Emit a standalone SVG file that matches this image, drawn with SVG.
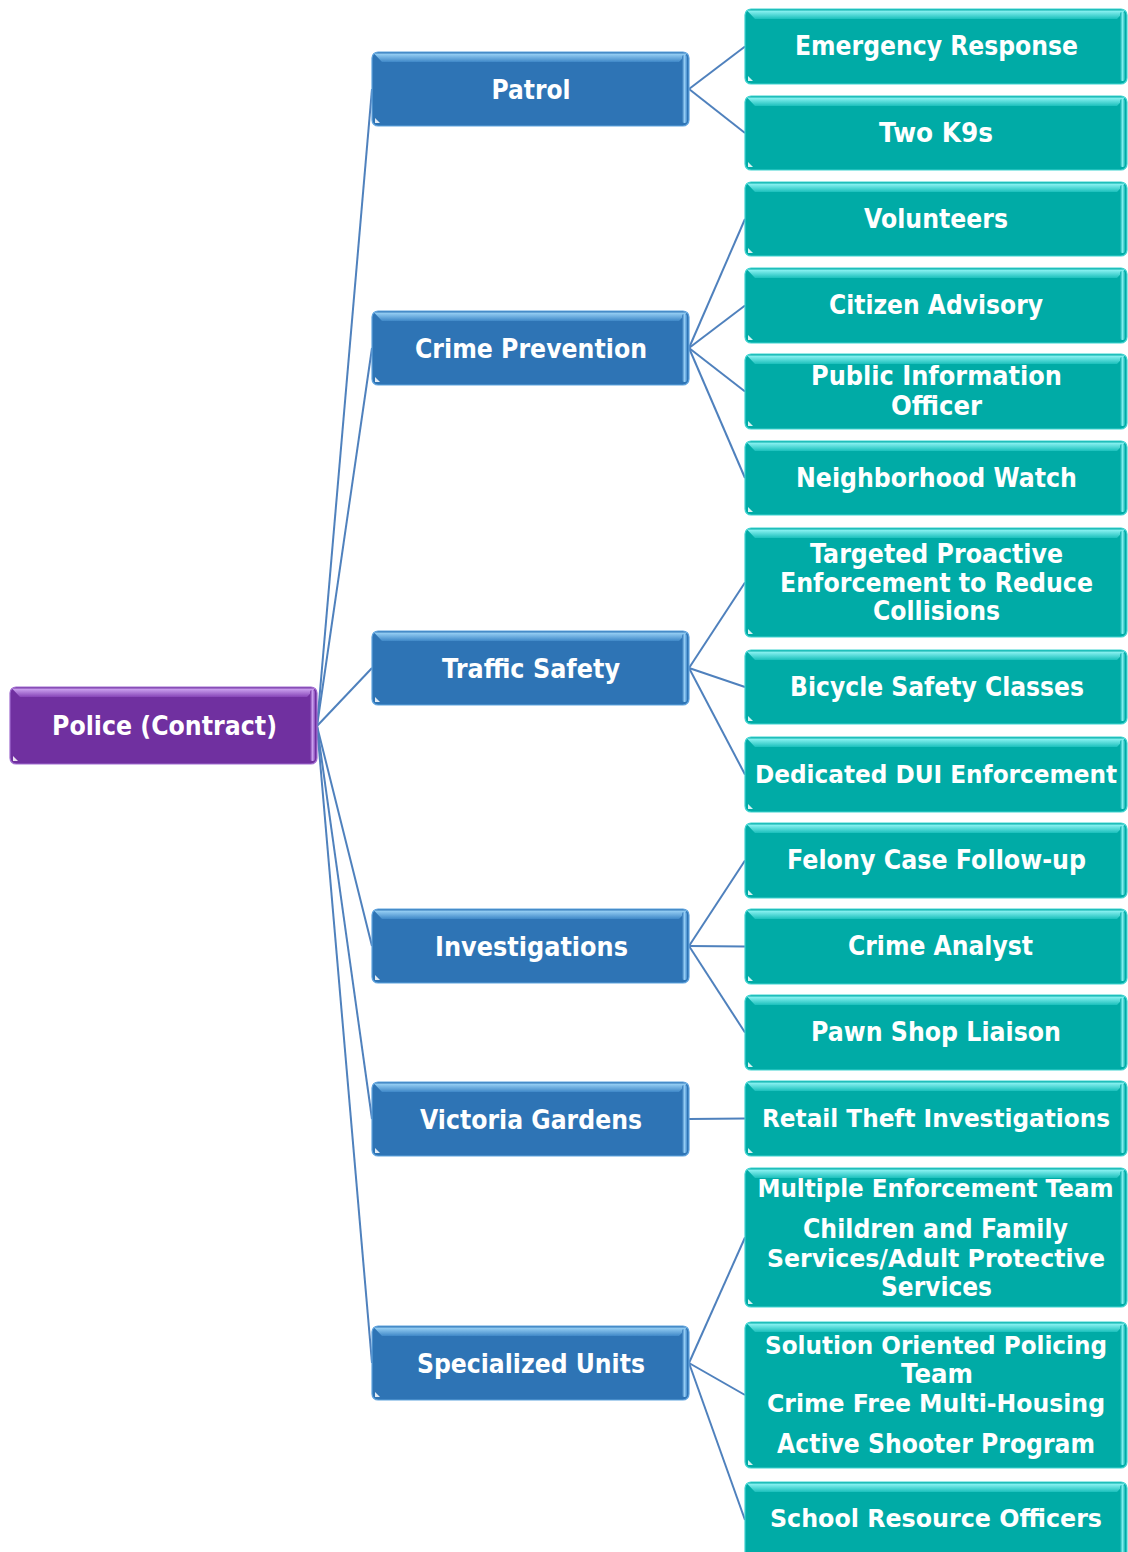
<svg xmlns="http://www.w3.org/2000/svg" width="1128" height="1552" viewBox="0 0 1128 1552">
<defs>
<linearGradient id="gTealTop" x1="0" y1="0" x2="0" y2="1"><stop offset="0" stop-color="#8FF4F4"/><stop offset="1" stop-color="#1BC0BC"/></linearGradient>
<linearGradient id="gBlueTop" x1="0" y1="0" x2="0" y2="1"><stop offset="0" stop-color="#9AD2F6"/><stop offset="1" stop-color="#3F88C8"/></linearGradient>
<linearGradient id="gPurpTop" x1="0" y1="0" x2="0" y2="1"><stop offset="0" stop-color="#CFA6F2"/><stop offset="1" stop-color="#8645B8"/></linearGradient>
<linearGradient id="gTealEdge" x1="0" y1="0" x2="1" y2="0"><stop offset="0" stop-color="#00ABA6"/><stop offset="0.5" stop-color="#7EEDEE"/><stop offset="1" stop-color="#1AB8B4"/></linearGradient>
<linearGradient id="gBlueEdge" x1="0" y1="0" x2="1" y2="0"><stop offset="0" stop-color="#2E74B5"/><stop offset="0.5" stop-color="#93CCF4"/><stop offset="1" stop-color="#4A90CF"/></linearGradient>
<linearGradient id="gPurpEdge" x1="0" y1="0" x2="1" y2="0"><stop offset="0" stop-color="#7030A0"/><stop offset="0.5" stop-color="#C9A0EE"/><stop offset="1" stop-color="#8A4EBC"/></linearGradient>
</defs>
<style>
.leaf .body{fill:#00ABA6;stroke:#3FD3D0;stroke-width:1.2}
.leaf .top{fill:url(#gTealTop)}
.leaf .edge{fill:url(#gTealEdge)}
.mid .body{fill:#2E74B5;stroke:#5FA3DE;stroke-width:1.2}
.mid .top{fill:url(#gBlueTop)}
.mid .edge{fill:url(#gBlueEdge)}
.root .body{fill:#7030A0;stroke:#A06CD0;stroke-width:1.2}
.root .top{fill:url(#gPurpTop)}
.root .edge{fill:url(#gPurpEdge)}
.corner{fill:#FFFFFF;opacity:0.85}
text{font-family:"DejaVu Sans","Verdana",sans-serif;font-weight:bold;fill:#FFFFFF;text-anchor:middle}
.t26{font-size:26px}
.t27{font-size:27px}
.t23{font-size:24px}
#connectors path{fill:none;stroke:#4F81BD;stroke-width:2}
</style>

<g id="connectors">
<path d="M317,726 L372,89"/>
<path d="M317,726 L372,348"/>
<path d="M317,726 L372,668"/>
<path d="M317,726 L372,946"/>
<path d="M317,726 L372,1119"/>
<path d="M317,726 L372,1363"/>
<path d="M689,89 L745,46.5"/>
<path d="M689,89 L745,133"/>
<path d="M689,348 L745,219"/>
<path d="M689,348 L745,305.5"/>
<path d="M689,348 L745,391.5"/>
<path d="M689,348 L745,478"/>
<path d="M689,668 L745,582.5"/>
<path d="M689,668 L745,687"/>
<path d="M689,668 L745,774.5"/>
<path d="M689,946 L745,860.5"/>
<path d="M689,946 L745,946.5"/>
<path d="M689,946 L745,1032.5"/>
<path d="M689,1119 L745,1118.5"/>
<path d="M689,1363 L745,1237.5"/>
<path d="M689,1363 L745,1395"/>
<path d="M689,1363 L745,1520"/>
</g>

<g id="root-police" class="root">
<rect class="body" x="10" y="687" width="307" height="77" rx="6"/>
<path class="top" d="M12,688.5 H315 L307,697 H20 Z"/>
<rect class="edge" x="310" y="690" width="5" height="71" rx="2"/>
<path class="corner" d="M13,761 h5 l-5,-5 Z"/>
<text class="t27" x="164.5" y="735" textLength="225" lengthAdjust="spacingAndGlyphs">Police (Contract)</text>
</g>

<g id="mid-patrol" class="mid">
<rect class="body" x="372" y="52" width="317" height="74" rx="6"/>
<path class="top" d="M374,53.5 H687 L679,62 H382 Z"/>
<rect class="edge" x="682" y="55" width="5" height="68" rx="2"/>
<path class="corner" d="M375,123 h5 l-5,-5 Z"/>
<text class="t27" x="531" y="99" textLength="79" lengthAdjust="spacingAndGlyphs">Patrol</text>
</g>

<g id="mid-crime-prevention" class="mid">
<rect class="body" x="372" y="311" width="317" height="74" rx="6"/>
<path class="top" d="M374,312.5 H687 L679,321 H382 Z"/>
<rect class="edge" x="682" y="314" width="5" height="68" rx="2"/>
<path class="corner" d="M375,382 h5 l-5,-5 Z"/>
<text class="t27" x="531" y="357.5" textLength="232" lengthAdjust="spacingAndGlyphs">Crime Prevention</text>
</g>

<g id="mid-traffic-safety" class="mid">
<rect class="body" x="372" y="631" width="317" height="74" rx="6"/>
<path class="top" d="M374,632.5 H687 L679,641 H382 Z"/>
<rect class="edge" x="682" y="634" width="5" height="68" rx="2"/>
<path class="corner" d="M375,702 h5 l-5,-5 Z"/>
<text class="t27" x="531" y="677.5" textLength="178" lengthAdjust="spacingAndGlyphs">Traffic Safety</text>
</g>

<g id="mid-investigations" class="mid">
<rect class="body" x="372" y="909" width="317" height="74" rx="6"/>
<path class="top" d="M374,910.5 H687 L679,919 H382 Z"/>
<rect class="edge" x="682" y="912" width="5" height="68" rx="2"/>
<path class="corner" d="M375,980 h5 l-5,-5 Z"/>
<text class="t27" x="531.5" y="955.5" textLength="193" lengthAdjust="spacingAndGlyphs">Investigations</text>
</g>

<g id="mid-victoria-gardens" class="mid">
<rect class="body" x="372" y="1082" width="317" height="74" rx="6"/>
<path class="top" d="M374,1083.5 H687 L679,1092 H382 Z"/>
<rect class="edge" x="682" y="1085" width="5" height="68" rx="2"/>
<path class="corner" d="M375,1153 h5 l-5,-5 Z"/>
<text class="t27" x="531" y="1128.5" textLength="222" lengthAdjust="spacingAndGlyphs">Victoria Gardens</text>
</g>

<g id="mid-specialized-units" class="mid">
<rect class="body" x="372" y="1326" width="317" height="74" rx="6"/>
<path class="top" d="M374,1327.5 H687 L679,1336 H382 Z"/>
<rect class="edge" x="682" y="1329" width="5" height="68" rx="2"/>
<path class="corner" d="M375,1397 h5 l-5,-5 Z"/>
<text class="t27" x="531" y="1372.5" textLength="228" lengthAdjust="spacingAndGlyphs">Specialized Units</text>
</g>

<g id="leaf-emergency-response" class="leaf">
<rect class="body" x="745" y="9" width="382" height="75" rx="6"/>
<path class="top" d="M747,10.5 H1125 L1117,19 H755 Z"/>
<rect class="edge" x="1120" y="12" width="5" height="69" rx="2"/>
<path class="corner" d="M748,81 h5 l-5,-5 Z"/>
<text class="t26" x="936.5" y="54.5" textLength="283" lengthAdjust="spacingAndGlyphs">Emergency Response</text>
</g>

<g id="leaf-two-k9s" class="leaf">
<rect class="body" x="745" y="96" width="382" height="74" rx="6"/>
<path class="top" d="M747,97.5 H1125 L1117,106 H755 Z"/>
<rect class="edge" x="1120" y="99" width="5" height="68" rx="2"/>
<path class="corner" d="M748,167 h5 l-5,-5 Z"/>
<text class="t26" x="936" y="142" textLength="114" lengthAdjust="spacingAndGlyphs">Two K9s</text>
</g>

<g id="leaf-volunteers" class="leaf">
<rect class="body" x="745" y="182" width="382" height="74" rx="6"/>
<path class="top" d="M747,183.5 H1125 L1117,192 H755 Z"/>
<rect class="edge" x="1120" y="185" width="5" height="68" rx="2"/>
<path class="corner" d="M748,253 h5 l-5,-5 Z"/>
<text class="t26" x="936" y="228" textLength="144" lengthAdjust="spacingAndGlyphs">Volunteers</text>
</g>

<g id="leaf-citizen-advisory" class="leaf">
<rect class="body" x="745" y="268" width="382" height="75" rx="6"/>
<path class="top" d="M747,269.5 H1125 L1117,278 H755 Z"/>
<rect class="edge" x="1120" y="271" width="5" height="69" rx="2"/>
<path class="corner" d="M748,340 h5 l-5,-5 Z"/>
<text class="t26" x="936" y="314" textLength="214" lengthAdjust="spacingAndGlyphs">Citizen Advisory</text>
</g>

<g id="leaf-public-information-officer" class="leaf">
<rect class="body" x="745" y="354" width="382" height="75" rx="6"/>
<path class="top" d="M747,355.5 H1125 L1117,364 H755 Z"/>
<rect class="edge" x="1120" y="357" width="5" height="69" rx="2"/>
<path class="corner" d="M748,426 h5 l-5,-5 Z"/>
<text class="t26" x="936.5" y="385" textLength="251" lengthAdjust="spacingAndGlyphs">Public Information</text>
<text class="t26" x="936.5" y="414.5" textLength="91" lengthAdjust="spacingAndGlyphs">Officer</text>
</g>

<g id="leaf-neighborhood-watch" class="leaf">
<rect class="body" x="745" y="441" width="382" height="74" rx="6"/>
<path class="top" d="M747,442.5 H1125 L1117,451 H755 Z"/>
<rect class="edge" x="1120" y="444" width="5" height="68" rx="2"/>
<path class="corner" d="M748,512 h5 l-5,-5 Z"/>
<text class="t26" x="936.5" y="486.5" textLength="281" lengthAdjust="spacingAndGlyphs">Neighborhood Watch</text>
</g>

<g id="leaf-targeted-proactive" class="leaf">
<rect class="body" x="745" y="528" width="382" height="109" rx="6"/>
<path class="top" d="M747,529.5 H1125 L1117,538 H755 Z"/>
<rect class="edge" x="1120" y="531" width="5" height="103" rx="2"/>
<path class="corner" d="M748,634 h5 l-5,-5 Z"/>
<text class="t26" x="936.5" y="563" textLength="253" lengthAdjust="spacingAndGlyphs">Targeted Proactive</text>
<text class="t26" x="936.5" y="591.5" textLength="313" lengthAdjust="spacingAndGlyphs">Enforcement to Reduce</text>
<text class="t26" x="936.5" y="620" textLength="127" lengthAdjust="spacingAndGlyphs">Collisions</text>
</g>

<g id="leaf-bicycle-safety" class="leaf">
<rect class="body" x="745" y="650" width="382" height="74" rx="6"/>
<path class="top" d="M747,651.5 H1125 L1117,660 H755 Z"/>
<rect class="edge" x="1120" y="653" width="5" height="68" rx="2"/>
<path class="corner" d="M748,721 h5 l-5,-5 Z"/>
<text class="t26" x="937" y="696" textLength="294" lengthAdjust="spacingAndGlyphs">Bicycle Safety Classes</text>
</g>

<g id="leaf-dui-enforcement" class="leaf">
<rect class="body" x="745" y="737" width="382" height="75" rx="6"/>
<path class="top" d="M747,738.5 H1125 L1117,747 H755 Z"/>
<rect class="edge" x="1120" y="740" width="5" height="69" rx="2"/>
<path class="corner" d="M748,809 h5 l-5,-5 Z"/>
<text class="t23" x="936" y="783" textLength="362" lengthAdjust="spacingAndGlyphs">Dedicated DUI Enforcement</text>
</g>

<g id="leaf-felony-case" class="leaf">
<rect class="body" x="745" y="823" width="382" height="75" rx="6"/>
<path class="top" d="M747,824.5 H1125 L1117,833 H755 Z"/>
<rect class="edge" x="1120" y="826" width="5" height="69" rx="2"/>
<path class="corner" d="M748,895 h5 l-5,-5 Z"/>
<text class="t26" x="936.5" y="869" textLength="299" lengthAdjust="spacingAndGlyphs">Felony Case Follow-up</text>
</g>

<g id="leaf-crime-analyst" class="leaf">
<rect class="body" x="745" y="909" width="382" height="75" rx="6"/>
<path class="top" d="M747,910.5 H1125 L1117,919 H755 Z"/>
<rect class="edge" x="1120" y="912" width="5" height="69" rx="2"/>
<path class="corner" d="M748,981 h5 l-5,-5 Z"/>
<text class="t26" x="940.5" y="955" textLength="185" lengthAdjust="spacingAndGlyphs">Crime Analyst</text>
</g>

<g id="leaf-pawn-shop" class="leaf">
<rect class="body" x="745" y="995" width="382" height="75" rx="6"/>
<path class="top" d="M747,996.5 H1125 L1117,1005 H755 Z"/>
<rect class="edge" x="1120" y="998" width="5" height="69" rx="2"/>
<path class="corner" d="M748,1067 h5 l-5,-5 Z"/>
<text class="t26" x="936" y="1041" textLength="250" lengthAdjust="spacingAndGlyphs">Pawn Shop Liaison</text>
</g>

<g id="leaf-retail-theft" class="leaf">
<rect class="body" x="745" y="1081" width="382" height="75" rx="6"/>
<path class="top" d="M747,1082.5 H1125 L1117,1091 H755 Z"/>
<rect class="edge" x="1120" y="1084" width="5" height="69" rx="2"/>
<path class="corner" d="M748,1153 h5 l-5,-5 Z"/>
<text class="t23" x="936" y="1127" textLength="348" lengthAdjust="spacingAndGlyphs">Retail Theft Investigations</text>
</g>

<g id="leaf-multiple-enforcement" class="leaf">
<rect class="body" x="745" y="1168" width="382" height="139" rx="6"/>
<path class="top" d="M747,1169.5 H1125 L1117,1178 H755 Z"/>
<rect class="edge" x="1120" y="1171" width="5" height="133" rx="2"/>
<path class="corner" d="M748,1304 h5 l-5,-5 Z"/>
<text class="t23" x="935.5" y="1197" textLength="356" lengthAdjust="spacingAndGlyphs">Multiple Enforcement Team</text>
<text class="t26" x="935.5" y="1238" textLength="265" lengthAdjust="spacingAndGlyphs">Children and Family</text>
<text class="t23" x="936" y="1267" textLength="338" lengthAdjust="spacingAndGlyphs">Services/Adult Protective</text>
<text class="t26" x="936.5" y="1296" textLength="111" lengthAdjust="spacingAndGlyphs">Services</text>
</g>

<g id="leaf-solution-oriented" class="leaf">
<rect class="body" x="745" y="1322" width="382" height="146" rx="6"/>
<path class="top" d="M747,1323.5 H1125 L1117,1332 H755 Z"/>
<rect class="edge" x="1120" y="1325" width="5" height="140" rx="2"/>
<path class="corner" d="M748,1465 h5 l-5,-5 Z"/>
<text class="t23" x="936" y="1354" textLength="342" lengthAdjust="spacingAndGlyphs">Solution Oriented Policing</text>
<text class="t26" x="937" y="1383" textLength="72" lengthAdjust="spacingAndGlyphs">Team</text>
<text class="t23" x="936" y="1412" textLength="338" lengthAdjust="spacingAndGlyphs">Crime Free Multi-Housing</text>
<text class="t26" x="936" y="1453" textLength="318" lengthAdjust="spacingAndGlyphs">Active Shooter Program</text>
</g>

<g id="leaf-school-resource" class="leaf">
<rect class="body" x="745" y="1482" width="382" height="80" rx="6"/>
<path class="top" d="M747,1483.5 H1125 L1117,1492 H755 Z"/>
<rect class="edge" x="1120" y="1485" width="5" height="74" rx="2"/>
<text class="t23" x="936" y="1527" textLength="332" lengthAdjust="spacingAndGlyphs">School Resource Officers</text>
</g>
</svg>
